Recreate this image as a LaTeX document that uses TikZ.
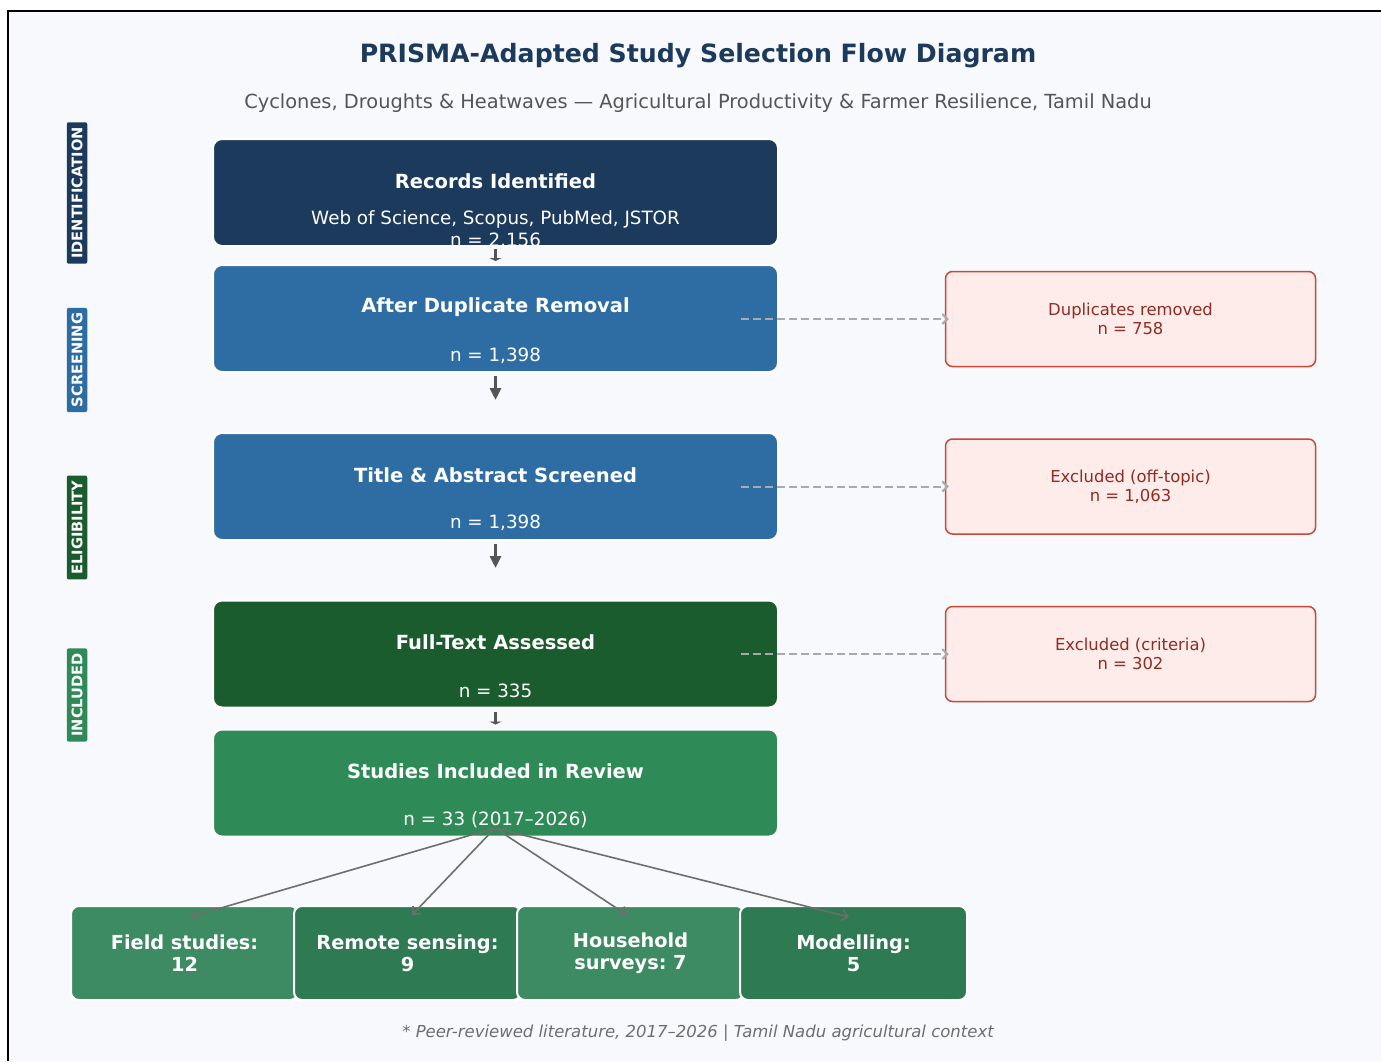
\documentclass[tikz,border=0pt]{standalone}
\usepackage{fontspec}
\setmainfont{DejaVu Sans}
\usetikzlibrary{arrows.meta,calc}
\frenchspacing
\definecolor{navy}{HTML}{1B3A5C}
\definecolor{midblue}{HTML}{2E6DA4}
\definecolor{dkgreen}{HTML}{1B5C2E}
\definecolor{seagreen}{HTML}{2E8B57}
\definecolor{subA}{HTML}{3D8B63}
\definecolor{subB}{HTML}{2E7A52}
\definecolor{bgc}{HTML}{F8F9FC}
\definecolor{exred}{HTML}{C8483A}
\definecolor{expink}{HTML}{FDECEA}
\definecolor{extext}{HTML}{922B21}
\definecolor{arrowdark}{HTML}{555555}
\definecolor{dashgray}{HTML}{AAAAAA}
\definecolor{fangray}{HTML}{6E6E6E}
\tikzset{
  mainbox/.style={rectangle, rounded corners=9pt, draw=white, line width=2pt,
    minimum width=565pt, minimum height=107pt, inner sep=0pt},
  mtitle/.style={text=white, font=\fontsize{19.5}{23}\selectfont\bfseries, inner sep=0pt},
  msub/.style={text=white, font=\fontsize{18.3}{22}\selectfont, inner sep=0pt},
  exbox/.style={rectangle, rounded corners=7pt, draw=exred, fill=expink, line width=1.5pt,
    minimum width=370pt, minimum height=95pt, text=extext, align=center,
    font=\fontsize{16.4}{19}\selectfont},
  subbox/.style={rectangle, rounded corners=8pt, draw=white, line width=2pt,
    minimum width=227pt, minimum height=94pt, text=white, align=center,
    font=\fontsize{19.3}{22}\selectfont\bfseries},
  stagelab/.style={rotate=90, rounded corners=2pt, text=white,
    font=\fontsize{14.6}{16}\selectfont\bfseries, inner xsep=5pt, inner ysep=5pt,
    text height=10.5pt, text depth=0pt},
  mainarrow/.style={draw=arrowdark, line width=3pt, -{Triangle[length=12pt,width=11pt]}},
  shortarrow/.style={draw=arrowdark, line width=3pt, -{Triangle[length=3pt,width=12pt]}},
  dasharrow/.style={draw=dashgray, line width=2pt, dash pattern=on 8pt off 4pt,
    -{Straight Barb[length=5pt,width=10pt]}},
  fanarrow/.style={draw=fangray, line width=1.6pt, -{Straight Barb[length=6pt,width=11pt]}}
}
\begin{document}
\begin{tikzpicture}[x=1pt,y=-1pt]
\fill[white] (0,0) rectangle (1381,1061);
\useasboundingbox (0,0) rectangle (1381,1061);
\fill[bgc] (8,11) rectangle (1381,1061);
\draw[black, line width=2pt] (8,1061) -- (8,11) -- (1381,11);

% title
\node[text=navy, font=\fontsize{25.2}{30}\selectfont\bfseries, inner sep=0pt] (title) at (698,56) {PRISMA-Adapted Study Selection Flow Diagram};
\node[text=arrowdark, font=\fontsize{19.4}{23}\selectfont, inner sep=0pt] (subtitle) at (698,103) {Cyclones, Droughts \& Heatwaves — Agricultural Productivity \& Farmer Resilience, Tamil Nadu};

% stage labels
\node[stagelab, fill=navy] (sg1) at (77,193) {IDENTIFICATION};
\node[stagelab, fill=midblue] (sg2) at (77,360) {SCREENING};
\node[stagelab, fill=dkgreen] (sg3) at (77,527.5) {ELIGIBILITY};
\node[stagelab, fill=seagreen] (sg4) at (77,695) {INCLUDED};

% main boxes
\node[mainbox, fill=navy] (b1) at (495.5,192.5) {};
\node[mtitle] (b1t) at (495.5,181) {Records Identified};
\node[msub] (b1s) at (495.5,219) {Web of Science, Scopus, PubMed, JSTOR};
\node[msub] (b1n) at (495.5,241) {n = 2,156};

\node[mainbox, fill=midblue] (b2) at (495.5,318.5) {};
\node[mtitle] (b2t) at (495.5,307) {After Duplicate Removal};
\node[msub] (b2n) at (495.5,356) {n = 1,398};

\node[mainbox, fill=midblue] (b3) at (495.5,486.5) {};
\node[mtitle] (b3t) at (495.5,475) {Title \& Abstract Screened};
\node[msub] (b3n) at (495.5,523) {n = 1,398};

\node[mainbox, fill=dkgreen] (b4) at (495.5,654) {};
\node[mtitle] (b4t) at (495.5,642) {Full-Text Assessed};
\node[msub] (b4n) at (495.5,691) {n = 335};

\node[mainbox, fill=seagreen] (b5) at (495.5,783) {};
\node[mtitle] (b5t) at (495.5,771) {Studies Included in Review};
\node[msub] (b5n) at (495.5,820) {n = 33 (2017–2026)};

% main arrows
\coordinate (c2) at (495.5,400);
\coordinate (c3) at (495.5,568);
\draw[shortarrow, shorten <=2pt, shorten >=3pt] (b1.south) -- (b2.north);
\draw[mainarrow, shorten <=3pt] (b2.south) -- (c2);
\draw[mainarrow, shorten <=3pt] (b3.south) -- (c3);
\draw[shortarrow, shorten <=3pt, shorten >=4pt] (b4.south) -- (b5.north);

% exclusion boxes
\node[exbox] (e1) at (1130.5,319) {Duplicates removed\\n = 758};
\node[exbox] (e2) at (1130.5,486.5) {Excluded (off-topic)\\n = 1,063};
\node[exbox] (e3) at (1130.5,654) {Excluded (criteria)\\n = 302};

\coordinate (d1) at (741,319);
\coordinate (d2) at (741,486.5);
\coordinate (d3) at (741,654);
\draw[dasharrow, shorten >=-4pt] (d1) -- (e1.west);
\draw[dasharrow, shorten >=-4pt] (d2) -- (e2.west);
\draw[dasharrow, shorten >=-4pt] (d3) -- (e3.west);

% sub boxes
\node[subbox, fill=subA] (s1) at (184.5,953) {Field studies:\\12};
\node[subbox, fill=subB] (s2) at (407.5,953) {Remote sensing:\\9};
\node[subbox, fill=subA] (s3) at (630.5,953) {Household\\surveys: 7};
\node[subbox, fill=subB] (s4) at (853.5,953) {Modelling:\\5};

% fan arrows
\coordinate (fan) at (495,828);
\coordinate (f1) at (190,917);
\coordinate (f2) at (412,915);
\coordinate (f3) at (627,915);
\coordinate (f4) at (849,917);
\draw[fanarrow] (fan) -- (f1);
\draw[fanarrow] (fan) -- (f2);
\draw[fanarrow] (fan) -- (f3);
\draw[fanarrow] (fan) -- (f4);

% footnote
\node[text=fangray, font=\fontsize{16.5}{19}\selectfont\itshape, inner sep=0pt] (foot) at (698,1033) {* Peer-reviewed literature, 2017–2026 | Tamil Nadu agricultural context};
\end{tikzpicture}
\end{document}
